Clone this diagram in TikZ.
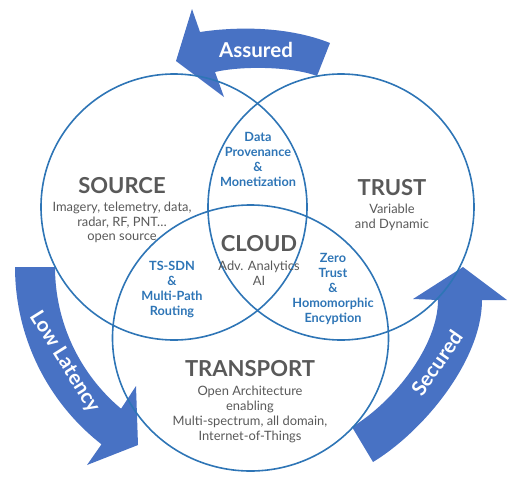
\documentclass[tikz,border=0pt]{standalone}
\usepackage{fontspec}
\setmainfont{Lato}
\definecolor{ringblue}{RGB}{46,117,182}
\definecolor{arrowblue}{RGB}{72,114,196}
\definecolor{txtgray}{RGB}{89,89,89}
\begin{document}
\begin{tikzpicture}[x=1pt,y=-1pt,
  ring/.style={draw=ringblue,line width=1.6pt},
  bigarrow/.style={fill=arrowblue,draw=none},
  title/.style={text=txtgray,font=\bfseries\fontsize{22}{25}\selectfont,inner sep=0pt},
  bodytxt/.style={text=txtgray,align=center,font=\fontsize{12.9}{14.8}\selectfont,inner sep=0pt},
  bluetxt/.style={text=ringblue,align=center,font=\bfseries\fontsize{12.7}{15}\selectfont,inner sep=0pt},
  arrowtxt/.style={text=white,font=\bfseries\fontsize{20.5}{23}\selectfont,inner sep=0pt}]
\useasboundingbox (0,0) rectangle (516,485);
% curved arrows
\path[bigarrow] (330,43) .. controls (290,27) and (240,26) .. (200,32) -- (192,9) -- (176,61) -- (224,97) -- (215,72)
  .. controls (240,66) and (290,66) .. (317,76) -- cycle;
\path[bigarrow] (15,267) -- (55,267) arc[start angle=180,end angle=130,radius=185]
  -- (136,386) -- (138,445) -- (87,465) -- (101.5,444.3) arc[start angle=128,end angle=180,radius=225] -- cycle;
\path[bigarrow] (352,427) .. controls (395,401) and (438,345) .. (438,300) -- (413,299) -- (463,267) -- (507,300) -- (482,300)
  .. controls (482,360) and (424,431) .. (373,462) -- cycle;
% rings
\draw[ring] (174,207) circle[radius=133];
\draw[ring] (341,207) circle[radius=133];
\draw[ring] (250.5,338) ellipse[x radius=138,y radius=133];
% arrow labels
\node[arrowtxt] (assured) at (256,50) {Assured};
\node[arrowtxt,rotate=-58] (lowlat) at (65,362) {Low Latency};
\node[arrowtxt,rotate=55] (secured) at (437,363) {Secured};
% texts
\node[title] (source) at (122,186) {SOURCE};
\node[bodytxt] (sourcetxt) at (122,222.5) {Imagery, telemetry, data,\\radar, RF, PNT…\\open source};
\node[title] (trust) at (392,188) {TRUST};
\node[bodytxt] (trusttxt) at (392,217.5) {Variable\\and Dynamic};
\node[title] (cloud) at (259,244) {CLOUD};
\node[bodytxt] (cloudtxt) at (259,273.5) {Adv. Analytics\\AI};
\node[title] (transport) at (250,369) {TRANSPORT};
\node[bodytxt] (transporttxt) at (250,414.5) {Open Architecture\\enabling\\Multi-spectrum, all domain,\\Internet-of-Things};
\node[bluetxt] (prov) at (258,159.5) {Data\\Provenance\\\&\\Monetization};
\node[bluetxt] (zero) at (333,289) {Zero\\Trust\\\&\\Homomorphic\\Encyption};
\node[bluetxt] (tssdn) at (172,289.5) {TS-SDN\\\&\\Multi-Path\\Routing};
\end{tikzpicture}
\end{document}
